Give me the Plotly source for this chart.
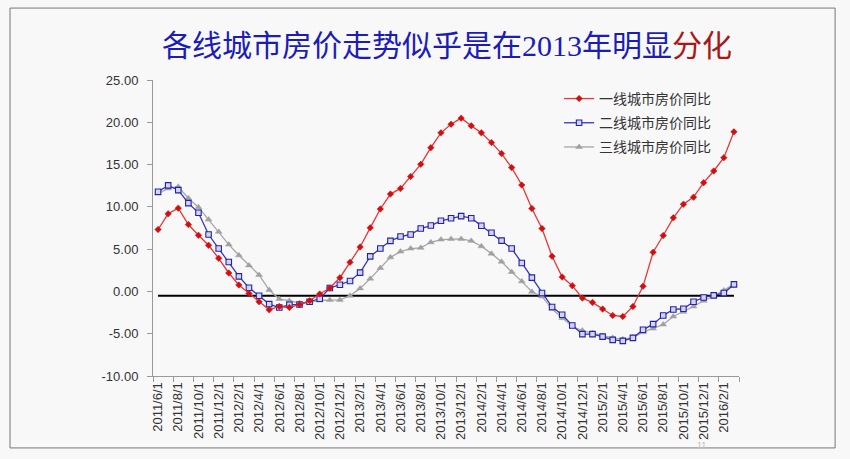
import plotly.graph_objects as go

# Monthly categories 2011/6/1 .. 2016/3/1
months = []
for y in range(2011, 2017):
    for m in range(1, 13):
        if (y == 2011 and m < 6) or (y == 2016 and m > 3):
            continue
        months.append(f"{y}/{m}/1")

tier1 = [7.32, 9.18, 9.85, 7.91, 6.64, 5.46, 3.92, 2.18, 0.76, -0.24,
         -1.22, -2.17, -1.78, -1.90, -1.54, -1.10, -0.31, 0.40, 1.62, 3.44,
         5.26, 7.52, 9.75, 11.51, 12.18, 13.60, 15.03, 17.00, 18.75, 19.77,
         20.49, 19.58, 18.75, 17.60, 16.30, 14.64, 12.58, 9.81, 7.44, 4.15,
         1.71, 0.68, -0.79, -1.30, -2.09, -2.84, -2.96, -1.78, 0.60, 4.63,
         6.61, 8.70, 10.32, 11.15, 12.86, 14.24, 15.82, 18.87]

tier2 = [11.79, 12.54, 11.98, 10.44, 9.30, 6.73, 5.07, 3.48, 1.78, 0.44,
         -0.51, -1.50, -1.90, -1.58, -1.54, -1.22, -0.87, 0.40, 0.79, 1.23,
         2.22, 4.15, 5.07, 5.98, 6.49, 6.73, 7.44, 7.79, 8.35, 8.66,
         8.90, 8.66, 7.76, 6.93, 6.01, 5.07, 3.37, 1.63, -0.19, -1.85,
         -2.76, -4.03, -5.05, -5.05, -5.34, -5.73, -5.85, -5.49, -4.54, -3.87,
         -2.85, -2.13, -2.05, -1.22, -0.71, -0.47, -0.19, 0.83]

tier3 = [11.55, 12.18, 12.38, 11.03, 9.96, 8.50, 7.05, 5.54, 4.27, 3.08,
         1.95, 0.17, -0.90, -1.10, -1.38, -1.30, -1.07, -1.02, -1.00, -0.51,
         0.36, 1.51, 2.77, 4.03, 4.71, 5.07, 5.15, 5.81, 6.13, 6.21,
         6.21, 5.98, 5.34, 4.47, 3.52, 2.30, 1.19, -0.04, -0.59, -2.09,
         -3.16, -4.15, -4.63, -4.94, -5.26, -5.49, -5.65, -5.46, -4.82, -4.39,
         -3.91, -2.96, -2.41, -1.78, -1.10, -0.55, 0.12, 0.87]

names = ["一线城市房价同比", "二线城市房价同比", "三线城市房价同比"]
ref_level = -0.5
y_ticks = [-10, -5, 0, 5, 10, 15, 20, 25]

fig = go.Figure()

fig.add_trace(go.Scatter(
    x=months, y=tier3, name=names[2], mode="lines+markers",
    line=dict(color="#a6a6a6", width=1.3),
    marker=dict(symbol="triangle-up", size=6, color="#a0a0a0",
                line=dict(color="#a0a0a0", width=0.5)),
    legendrank=3, legendgroup="c"))
fig.add_trace(go.Scatter(
    x=months, y=tier2, name=names[1], mode="lines+markers",
    line=dict(color="#3535b8", width=1.3),
    marker=dict(symbol="square", size=5.5, color="#d4d4f4",
                line=dict(color="#2222aa", width=1.1)),
    legendrank=2, legendgroup="b"))
fig.add_trace(go.Scatter(
    x=months, y=tier1, name=names[0], mode="lines+markers",
    line=dict(color="#e8353a", width=1.3),
    marker=dict(symbol="diamond", size=5, color="#d01010",
                line=dict(color="#d01010", width=0.5)),
    legendrank=1, legendgroup="a"))

fig.add_shape(type="line", xref="x", yref="y",
              x0=months[0], x1=months[-1], y0=ref_level, y1=ref_level,
              line=dict(color="black", width=2), layer="below")

# outer frame
fig.add_shape(type="rect", xref="paper", yref="paper",
              x0=-0.244, x1=1.164, y0=-0.243, y1=1.243,
              line=dict(color="#777777", width=1), layer="below")

title_html = ("<span style='color:#1c1cb8'>各线城市房价走势似乎是在2013年明显</span>"
              "<span style='color:#a81818'>分化</span>")
fig.add_annotation(text=title_html, xref="paper", yref="paper",
                   x=0.502, y=1.118, xanchor="center", yanchor="middle",
                   showarrow=False,
                   font=dict(size=30, family="Liberation Serif, Noto Sans CJK SC"))

fig.add_annotation(text="11", xref="paper", yref="paper", x=0.947, y=-0.257,
                   showarrow=False, font=dict(size=9, color="#bbbbbb"))

fig.update_layout(
    width=850, height=459,
    margin=dict(l=153, r=111, t=80, b=83),
    paper_bgcolor="#f8f8f8", plot_bgcolor="#f8f8f8",
    showlegend=True,
    legend=dict(x=0.693, y=0.99, xanchor="left", yanchor="top",
                bgcolor="rgba(0,0,0,0)", tracegroupgap=3,
                itemwidth=30,
                font=dict(size=14, color="#333333",
                          family="Noto Sans CJK SC")),
    font=dict(family="Liberation Sans, Arial", color="#333333"),
    hovermode=False,
)

fig.update_xaxes(type="category", range=[-0.5, len(months) - 0.5],
                 tickmode="linear", tick0=0, dtick=2,
                 tickangle=-90, tickson="boundaries",
                 ticks="outside", ticklen=5, tickcolor="#999999",
                 showline=True, linecolor="#999999", linewidth=1,
                 showgrid=False, zeroline=False,
                 tickfont=dict(size=13, color="#333333"))
fig.update_yaxes(range=[-10, 25], tickvals=y_ticks,
                 ticktext=[f"{v:.2f}" for v in y_ticks],
                 ticks="outside", ticklen=5, tickcolor="#999999",
                 showline=True, linecolor="#999999", linewidth=1,
                 showgrid=False, zeroline=False, ticklabelstandoff=6,
                 tickfont=dict(size=13, color="#333333"))

fig.write_html("out.html", config={"displayModeBar": False},
               post_script="document.body.style.margin='0';document.body.style.background='#f8f8f8';")
